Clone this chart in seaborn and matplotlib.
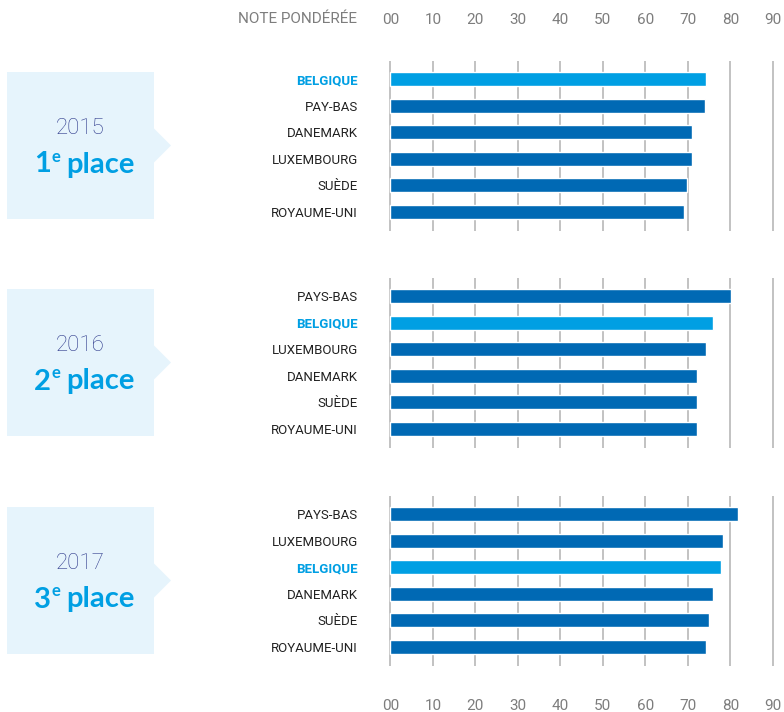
import matplotlib
matplotlib.use('Agg')
import matplotlib.pyplot as plt
import pandas as pd
import seaborn as sns
from matplotlib.patches import Polygon, Rectangle

# data
years = ['2015', '2016', '2017']
ranks = ['1', '2', '3']
countries_2015 = ['BELGIQUE', 'PAY-BAS', 'DANEMARK', 'LUXEMBOURG', 'SUÈDE', 'ROYAUME-UNI']
scores_2015 = [74.4, 74.0, 70.9, 70.9, 69.7, 69.1]
countries_2016 = ['PAYS-BAS', 'BELGIQUE', 'LUXEMBOURG', 'DANEMARK', 'SUÈDE', 'ROYAUME-UNI']
scores_2016 = [80.1, 75.9, 74.4, 72.1, 72.1, 72.1]
countries_2017 = ['PAYS-BAS', 'LUXEMBOURG', 'BELGIQUE', 'DANEMARK', 'SUÈDE', 'ROYAUME-UNI']
scores_2017 = [81.7, 78.4, 77.7, 75.9, 75.1, 74.4]
tick_values = [0, 10, 20, 30, 40, 50, 60, 70, 80, 90]
tick_labels = ['00', '10', '20', '30', '40', '50', '60', '70', '80', '90']

DARK = '#0069b4'
LIGHT = '#009fe3'
GRID = '#b8b8b8'
BOX = '#e6f4fc'
NAVY = '#2e3a8c'
GREY = '#7d7d7d'
LABELS = ['Roboto', 'DejaVu Sans']

sns.set_style('white')
plt.rcParams['font.family'] = ['Lato', 'DejaVu Sans']

W, H = 784, 712
fig = plt.figure(figsize=(W / 100, H / 100), dpi=100)

# overlay in pixel coordinates for the year boxes
ov = fig.add_axes([0, 0, 1, 1], zorder=0)
ov.set_xlim(0, W)
ov.set_ylim(H, 0)
ov.axis('off')

x_left, x_right = 388.2, 774.9
tops = [60.5, 277.5, 495.5]
ph = 170

panels = [(countries_2015, scores_2015), (countries_2016, scores_2016), (countries_2017, scores_2017)]

for i, (countries, scores) in enumerate(panels):
    df = pd.DataFrame({'pays': countries, 'note': scores})
    pal = {c: (LIGHT if c == 'BELGIQUE' else DARK) for c in countries}
    ax = fig.add_axes([x_left / W, 1 - (tops[i] + ph) / H, (x_right - x_left) / W, ph / H], zorder=1)
    ax.patch.set_alpha(0)
    sns.barplot(data=df, x='note', y='pays', hue='pays', palette=pal, legend=False,
                orient='h', width=0.52, saturation=1, ax=ax)
    ax.set_xlim(-0.5, 90.5)
    ax.set_ylim(5.7, -0.7)
    ax.set_xticks(tick_values)
    ax.grid(axis='x', color=GRID, lw=1.2)
    ax.grid(axis='y', visible=False)
    ax.set_axisbelow(True)
    sns.despine(ax=ax, left=True, bottom=True)
    ax.set_xlabel('')
    ax.set_ylabel('')
    ax.tick_params(axis='y', length=0, pad=22)
    for lab in ax.get_yticklabels():
        lab.set_fontfamily(LABELS)
        lab.set_fontsize(9.5)
        if lab.get_text() == 'BELGIQUE':
            lab.set_color(LIGHT)
            lab.set_fontweight('bold')
        else:
            lab.set_color('#222222')
    if i == 0:
        ax.xaxis.set_ticks_position('top')
        ax.tick_params(axis='x', length=0, pad=24, labeltop=True, labelbottom=False)
        ax.set_xticklabels(tick_labels, fontfamily=LABELS, fontsize=11, color=GREY)
    elif i == 2:
        ax.tick_params(axis='x', length=0, pad=24)
        ax.set_xticklabels(tick_labels, fontfamily=LABELS, fontsize=11, color=GREY)
    else:
        ax.tick_params(axis='x', length=0, labelbottom=False)

    # year box with arrow
    c = tops[i] + ph / 2
    ov.add_patch(Rectangle((7, c - 73.5), 147, 147, color=BOX, lw=0))
    ov.add_patch(Polygon([(154, c - 17), (171, c), (154, c + 17)], closed=True, color=BOX, lw=0))
    ov.text(80, c - 17, years[i], ha='center', va='center', fontsize=16,
            family=LABELS, fontweight='light', color=NAVY)
    t1 = ov.text(34, c + 19, ranks[i], ha='left', va='center', fontsize=21,
                 fontweight='bold', color=LIGHT)
    t2 = ov.annotate('e', xy=(1, 0.5), xycoords=t1, xytext=(0.5, 0), textcoords='offset points',
                     ha='left', va='bottom', fontsize=12, fontweight='bold', color=LIGHT)
    ov.annotate('place', xy=(1, 0), xycoords=(t2, t1), xytext=(4, 0), textcoords='offset points',
                ha='left', va='bottom', fontsize=21, fontweight='bold', color=LIGHT)

ov.text(357, 19, 'NOTE PONDÉRÉE', ha='right', va='center', fontsize=11,
        family=LABELS, color=GREY)

fig.savefig('out.png', dpi=100)
